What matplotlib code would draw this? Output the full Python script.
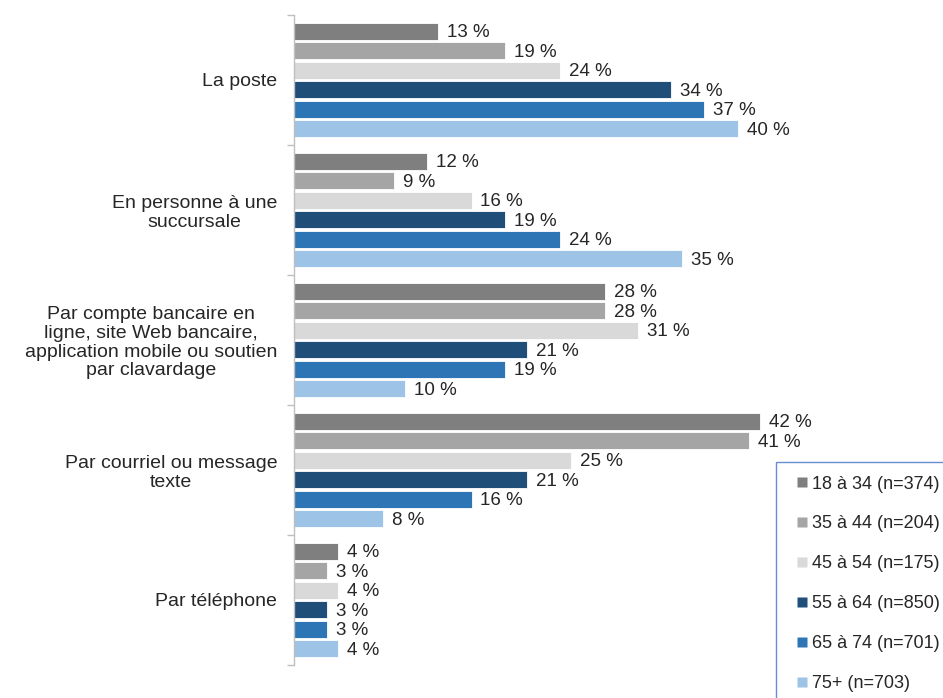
import matplotlib
matplotlib.use("Agg")
import matplotlib.pyplot as plt
from matplotlib.lines import Line2D
import numpy as np

plt.rcParams['font.family'] = ['Liberation Sans', 'DejaVu Sans']

categories = [
    "La poste",
    "En personne à une\nsuccursale",
    "Par compte bancaire en\nligne, site Web bancaire,\napplication mobile ou soutien\npar clavardage",
    "Par courriel ou message\ntexte",
    "Par téléphone",
]
groups = ["18 à 34 (n=374)", "35 à 44 (n=204)", "45 à 54 (n=175)",
          "55 à 64 (n=850)", "65 à 74 (n=701)", "75+ (n=703)"]
values = {
    "18 à 34 (n=374)": [13, 12, 28, 42, 4],
    "35 à 44 (n=204)": [19, 9, 28, 41, 3],
    "45 à 54 (n=175)": [24, 16, 31, 25, 4],
    "55 à 64 (n=850)": [34, 19, 21, 21, 3],
    "65 à 74 (n=701)": [37, 24, 19, 16, 3],
    "75+ (n=703)": [40, 35, 10, 8, 4],
}
colors = ["#7f7f7f", "#a5a5a5", "#d9d9d9", "#1f4e79", "#2e75b6", "#9dc3e6"]

W, H = 943, 698
fig = plt.figure(figsize=(W / 100, H / 100), dpi=100)
ax = fig.add_axes([294 / W, 1 - 665 / H, (W - 294) / W, 650 / H])

n_cat = len(categories)
pitch = 0.15
bar_h = 0.132
for gi, g in enumerate(groups):
    ys = np.arange(n_cat) + 0.5 + (gi - 2.5) * pitch
    vals = values[g]
    ax.barh(ys, vals, height=bar_h, color=colors[gi], edgecolor="white",
            linewidth=0.6, zorder=2)
    for y, v in zip(ys, vals):
        ax.text(v + 0.8, y + 0.01, f"{v} %", va="center", ha="left",
                fontsize=13.5, color="#262626")

ax.set_ylim(n_cat, 0)
ax.set_xlim(0, 58.5)

# category labels centred in each band, separators as ticks on the spine
ax.set_yticks(np.arange(n_cat) + 0.5)
ax.set_yticklabels(categories, multialignment="center", fontsize=14,
                   color="#262626", linespacing=1.12)
ax.tick_params(axis="y", which="major", length=0, pad=12)
ax.set_yticks(np.arange(n_cat + 1), minor=True)
ax.tick_params(axis="y", which="minor", length=5, width=1, color="#bfbfbf")
ax.set_xticks([])

for s in ["top", "right", "bottom"]:
    ax.spines[s].set_visible(False)
ax.spines["left"].set_color("#bfbfbf")
ax.spines["left"].set_linewidth(1)

handles = [Line2D([], [], linestyle="none", marker="s", markersize=6.5,
                  markerfacecolor=c, markeredgecolor="none") for c in colors]
leg = fig.legend(handles, groups, loc="upper left",
                 bbox_to_anchor=(776 / W, 1 - 462 / H),
                 fontsize=13, frameon=True, fancybox=False,
                 handlelength=1.33, handletextpad=-0.1,
                 labelspacing=1.27, borderpad=0.75, borderaxespad=0)
leg.get_frame().set_edgecolor("#4472c4")
leg.get_frame().set_linewidth(1)
for t in leg.get_texts():
    t.set_color("#262626")

fig.savefig("out.png", dpi=100)
